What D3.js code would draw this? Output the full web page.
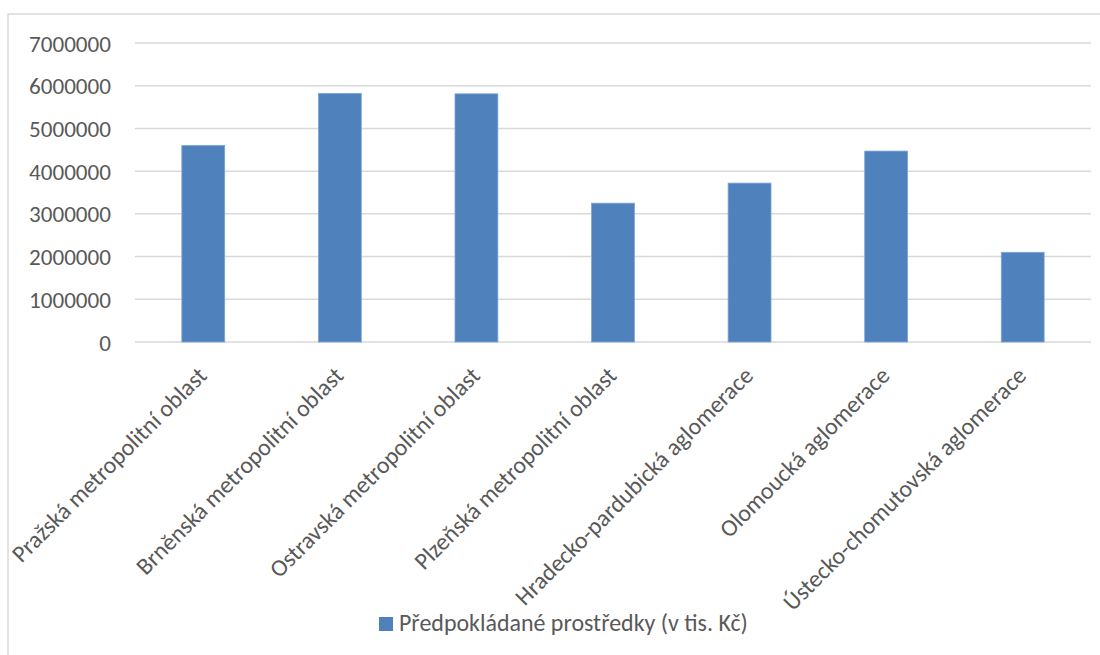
<!DOCTYPE html>
<html>
<head>
<meta charset="utf-8">
<script src="https://cdn.jsdelivr.net/npm/d3@7"></script>
<style>
  html, body { margin: 0; padding: 0; background: #fff; }
  svg { display: block; }
  text { font-family: Carlito, Calibri, "Open Sans", sans-serif; fill: #595959; }
</style>
</head>
<body>
<svg id="chart" width="1100" height="655"></svg>
<script>
// ---- data ----
const categories = [
  "Pražská metropolitní oblast",
  "Brněnská metropolitní oblast",
  "Ostravská metropolitní oblast",
  "Plzeňská metropolitní oblast",
  "Hradecko-pardubická aglomerace",
  "Olomoucká aglomerace",
  "Ústecko-chomutovská aglomerace"
];
const values = [4600000, 5820000, 5810000, 3250000, 3720000, 4470000, 2100000];
const yTicks = [0, 1000000, 2000000, 3000000, 4000000, 5000000, 6000000, 7000000];
const seriesName = "Předpokládané prostředky (v tis. Kč)";

// ---- layout ----
const svg = d3.select("#chart");
const W = 1100, H = 655;
const plot = { left: 135, right: 1091, top: 43, bottom: 342 };
const barColor = "#4f81bd";
const gridColor = "#d9d9d9";

// helper: font size that makes a string a given width
function fitSize(str, target) {
  const t = svg.append("text").attr("font-size", 100).text(str);
  const w = t.node().getComputedTextLength();
  t.remove();
  return 100 * target / w;
}
const labelSize = fitSize(seriesName, 349);
const tickSize = Math.min(fitSize("7000000", 82), labelSize * 1.12);

// outer chart border
svg.append("rect")
  .attr("x", 8).attr("y", 14)
  .attr("width", W + 20).attr("height", H + 20)
  .attr("fill", "none").attr("stroke", gridColor).attr("stroke-width", 1.5);

const x = d3.scaleBand().domain(categories).range([plot.left, plot.right]).paddingInner(0.686).paddingOuter(0.343);
const y = d3.scaleLinear().domain([0, 7000000]).range([plot.bottom, plot.top]);

// gridlines
svg.append("g").selectAll("line").data(yTicks).join("line")
  .attr("x1", plot.left).attr("x2", plot.right)
  .attr("y1", d => y(d)).attr("y2", d => y(d))
  .attr("stroke", gridColor).attr("stroke-width", 1.5);

// y axis labels
const yAxis = d3.axisLeft(y).tickValues(yTicks).tickFormat(d3.format("d")).tickSize(0).tickPadding(0);
const gy = svg.append("g").attr("transform", `translate(${plot.left - 24},0)`).call(yAxis);
gy.select(".domain").remove();
gy.selectAll("text")
  .attr("font-size", tickSize)
  .attr("font-family", null)
  .attr("fill", "#595959")
  .attr("dy", "0.35em");

// bars
svg.append("g").selectAll("rect").data(values).join("rect")
  .attr("x", (d, i) => x(categories[i]))
  .attr("y", d => y(d))
  .attr("width", x.bandwidth())
  .attr("height", d => y(0) - y(d))
  .attr("fill", barColor)
  .attr("stroke", "#7ea5d6").attr("stroke-width", 0.8);

// x axis labels (rotated)
const xAxis = d3.axisBottom(x).tickSize(0).tickPadding(0);
const gx = svg.append("g").attr("transform", `translate(0,${plot.bottom})`).call(xAxis);
gx.select(".domain").remove();
gx.selectAll(".tick text")
  .attr("font-size", labelSize)
  .attr("font-family", null)
  .attr("fill", "#595959")
  .attr("text-anchor", "end")
  .attr("dy", 0)
  .attr("y", 0)
  .attr("transform", "translate(5,35) rotate(-45)");

// legend
const leg = svg.append("g");
leg.append("rect").attr("x", 379).attr("y", 617).attr("width", 14).attr("height", 14).attr("fill", barColor);
leg.append("text").attr("x", 399).attr("y", 630.5).attr("font-size", labelSize).text(seriesName);
</script>
</body>
</html>
